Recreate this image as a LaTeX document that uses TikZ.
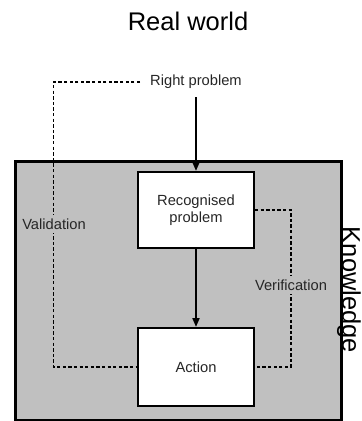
\documentclass[tikz,border=0pt]{standalone}
\usepackage{fontspec}
\setmainfont{Liberation Sans}
\usetikzlibrary{arrows.meta}
\definecolor{kgray}{HTML}{C0C0C0}
\tikzset{
  big/.style={font=\fontsize{25.5}{30}\selectfont, inner sep=0pt},
  lbl/.style={font=\fontsize{14.7}{17.5}\selectfont, text=black!85, align=center},
  box/.style={draw=black, line width=2pt, fill=white, minimum width=116pt, inner sep=0pt},
  flow/.style={line width=2pt, -{Triangle[length=9pt,width=7pt]}},
  dashline/.style={line width=1.6pt, dash pattern=on 3.3pt off 2.3pt},
}
\begin{document}
\begin{tikzpicture}[x=1pt,y=-1pt]
\useasboundingbox (0,0) rectangle (362,421);
% knowledge area
\node[draw=black, line width=3pt, fill=kgray, minimum width=326pt, minimum height=259pt, inner sep=0pt, anchor=north west] (kb) at (14,159.5) {};
\node[big] (title) at (188,21) {Real world};
\node[big, rotate=-90] (know) at (349,290) {Knowledge};
\node[lbl, inner xsep=10pt, inner ysep=8pt] (rp) at (196,82) {Right problem};
\node[box, minimum height=76pt, lbl] (rec) at (196,210) {Recognised\\problem};
\node[box, minimum height=78pt, lbl] (act) at (196,367) {Action};
\coordinate (vl) at (53.5,367);
\coordinate (vr) at (291,367);
\draw[flow] (rp.south) -- (rec.north);
\draw[flow] (rec.south) -- (act.north);
\draw[dashline] (rp.west) -| (vl) -- (act.west);
\draw[dashline] (rec.east) -| (vr) -- (act.east);
\node[lbl, fill=kgray, inner xsep=1pt, inner ysep=4pt] (val) at (54,224) {Validation};
\node[lbl, fill=kgray, inner xsep=1pt, inner ysep=4pt] (ver) at (291,285) {Verification};
\end{tikzpicture}
\end{document}
